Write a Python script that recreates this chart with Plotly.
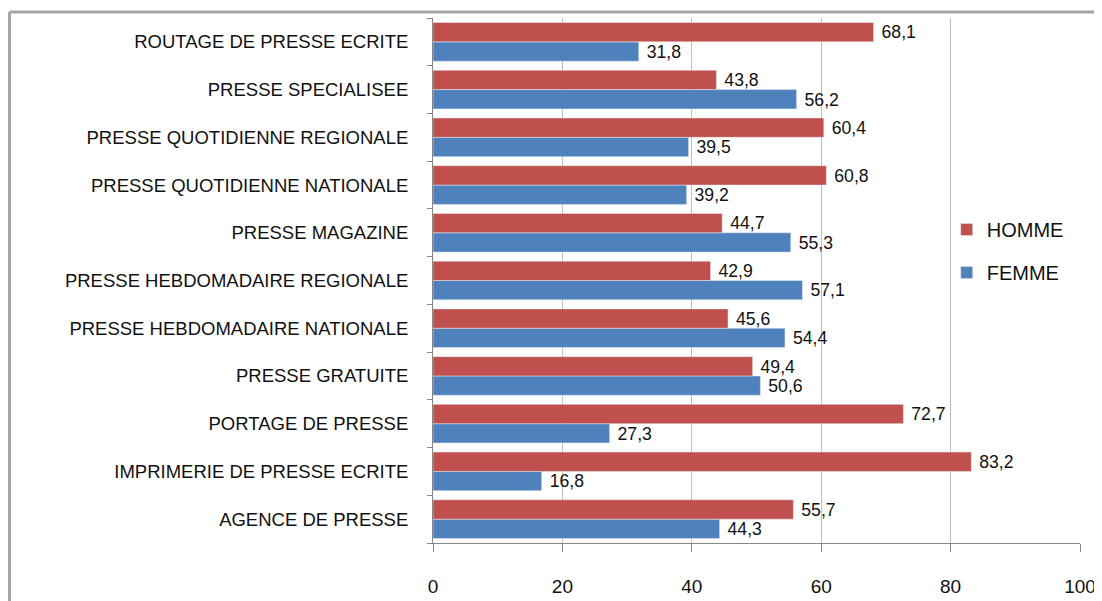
import plotly.graph_objects as go

# categories from bottom to top (plotly draws the first category at the bottom)
categories = [
    "AGENCE DE PRESSE",
    "IMPRIMERIE DE PRESSE ECRITE",
    "PORTAGE DE PRESSE",
    "PRESSE GRATUITE",
    "PRESSE HEBDOMADAIRE NATIONALE",
    "PRESSE HEBDOMADAIRE REGIONALE",
    "PRESSE MAGAZINE",
    "PRESSE QUOTIDIENNE NATIONALE",
    "PRESSE QUOTIDIENNE REGIONALE",
    "PRESSE SPECIALISEE",
    "ROUTAGE DE PRESSE ECRITE",
]
homme = [55.7, 83.2, 72.7, 49.4, 45.6, 42.9, 44.7, 60.8, 60.4, 43.8, 68.1]
femme = [44.3, 16.8, 27.3, 50.6, 54.4, 57.1, 55.3, 39.2, 39.5, 56.2, 31.8]
x_ticks = [0, 20, 40, 60, 80, 100]

font_name = "Liberation Sans"
text_col = "#111111"

fig = go.Figure()

# femme first -> lower bar of each pair
fig.add_trace(go.Bar(
    y=categories, x=femme, orientation="h", name="FEMME",
    marker_color="#4F81BD", legendgroup="f", legendrank=2,
    texttemplate=" %{x:.1f}", textposition="outside",
    textfont=dict(family=font_name, size=21, color=text_col),
    cliponaxis=False,
))
fig.add_trace(go.Bar(
    y=categories, x=homme, orientation="h", name="HOMME",
    marker_color="#C0504D", legendgroup="h", legendrank=1,
    texttemplate=" %{x:.1f}", textposition="outside",
    textfont=dict(family=font_name, size=21, color=text_col),
    cliponaxis=False,
))

# grey frame round the chart area (left and top edges)
# the page body has an 8px margin, so the figure is drawn 8px in and down
x_left = (1.5 - 425) / 647
x_right = (1094 - 425) / 647
y_top = (535 - 4) / 525
y_bot = (535 - 593) / 525
fig.add_shape(type="line", xref="paper", yref="paper",
              x0=x_left, x1=x_right, y0=y_top, y1=y_top,
              line=dict(color="#A6A6A6", width=3))
fig.add_shape(type="line", xref="paper", yref="paper",
              x0=x_left, x1=x_left, y0=y_top, y1=y_bot,
              line=dict(color="#A6A6A6", width=3))

fig.update_layout(
    width=1094, height=593,
    margin=dict(l=425, r=22, t=10, b=58),
    paper_bgcolor="white", plot_bgcolor="white",
    barmode="group", bargap=0.19, bargroupgap=0,
    separators=", ",
    font=dict(family=font_name, size=18.5, color=text_col),
    legend=dict(
        x=0.794, y=0.556, xanchor="left", yanchor="middle",
        traceorder="grouped", tracegroupgap=14,
        font=dict(family=font_name, size=20, color=text_col),
        bgcolor="rgba(0,0,0,0)",
        itemwidth=30,
    ),
    xaxis=dict(
        range=[0, 100], tickvals=x_ticks, showgrid=True,
        gridcolor="#BEBEBE", gridwidth=1, zeroline=False,
        showline=True, linecolor="#868686", linewidth=1,
        ticks="outside", ticklen=8, tickcolor="#868686",
        ticklabelstandoff=18, ticklabeloverflow="allow",
        automargin=False,
        tickfont=dict(family=font_name, size=19, color=text_col),
    ),
    yaxis=dict(
        type="category", categoryorder="array", categoryarray=categories,
        showline=True, linecolor="#868686", linewidth=1,
        ticks="outside", ticklen=5, tickcolor="#868686",
        tickson="boundaries", showgrid=False,
        ticklabelstandoff=20, automargin=False,
        tickfont=dict(family=font_name, size=18.5, color=text_col),
    ),
)

fig.write_html("out.html")
